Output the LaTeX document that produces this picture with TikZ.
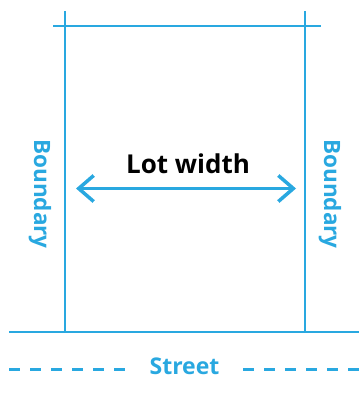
\documentclass[tikz,border=0pt]{standalone}
\usepackage{fontspec}
\setmainfont{Open Sans}
\usepackage{xcolor}
\usetikzlibrary{positioning,arrows.meta}
\definecolor{lotblue}{HTML}{29A8E0}

\begin{document}
\begin{tikzpicture}[x=1pt,y=-1pt]
            \useasboundingbox (0,0) rectangle (359,404);
            \coordinate (lefttop) at (65,11);
            \coordinate (leftbot) at (65,331);
            \coordinate (righttop) at (304.5,11);
            \coordinate (rightbot) at (304.5,331);
            \coordinate (reara) at (53,26);
            \coordinate (rearb) at (321,26);
            \coordinate (fronta) at (9,332);
            \coordinate (frontb) at (359,332);
            
            \draw[lotblue, line width=2pt] (lefttop) -- (leftbot);
            \draw[lotblue, line width=2pt] (righttop) -- (rightbot);
            \draw[lotblue, line width=2.2pt] (reara) -- (rearb);
            \draw[lotblue, line width=2.2pt] (fronta) -- (frontb);
            
            \coordinate (arrowl) at (76,188.5);
            \coordinate (arrowr) at (296,188.5);
            \draw[lotblue, line width=3.5pt, {Straight Barb[length=15pt, width=26pt]}-{Straight Barb[length=15pt, width=26pt]}] (arrowl) -- (arrowr);
            
            \node (lotwidth) [font=\bfseries\fontsize{26}{28}\selectfont, inner sep=0pt] at (188,164) {Lot width};
            \node (bleft) [lotblue, font=\bfseries\fontsize{22.5}{24}\selectfont, inner sep=0pt, rotate=-90] at (40,194) {Boundary};
            \node (bright) [lotblue, font=\bfseries\fontsize{22.5}{24}\selectfont, inner sep=0pt, rotate=-90] at (330,194) {Boundary};
            \node (street) [lotblue, font=\bfseries\fontsize{23}{25}\selectfont, inner sep=0pt] at (184.5,366) {Street};
            
            \coordinate (dashla) at (9,369.5);
            \coordinate (dashlb) at (128,369.5);
            \coordinate (dashra) at (243,369.5);
            \coordinate (dashrb) at (360,369.5);
            \draw[lotblue, line width=2.7pt, dash pattern=on 11pt off 10pt] (dashla) -- (dashlb);
            \draw[lotblue, line width=2.7pt, dash pattern=on 11pt off 10pt] (dashra) -- (dashrb);
        \end{tikzpicture}
\end{document}
